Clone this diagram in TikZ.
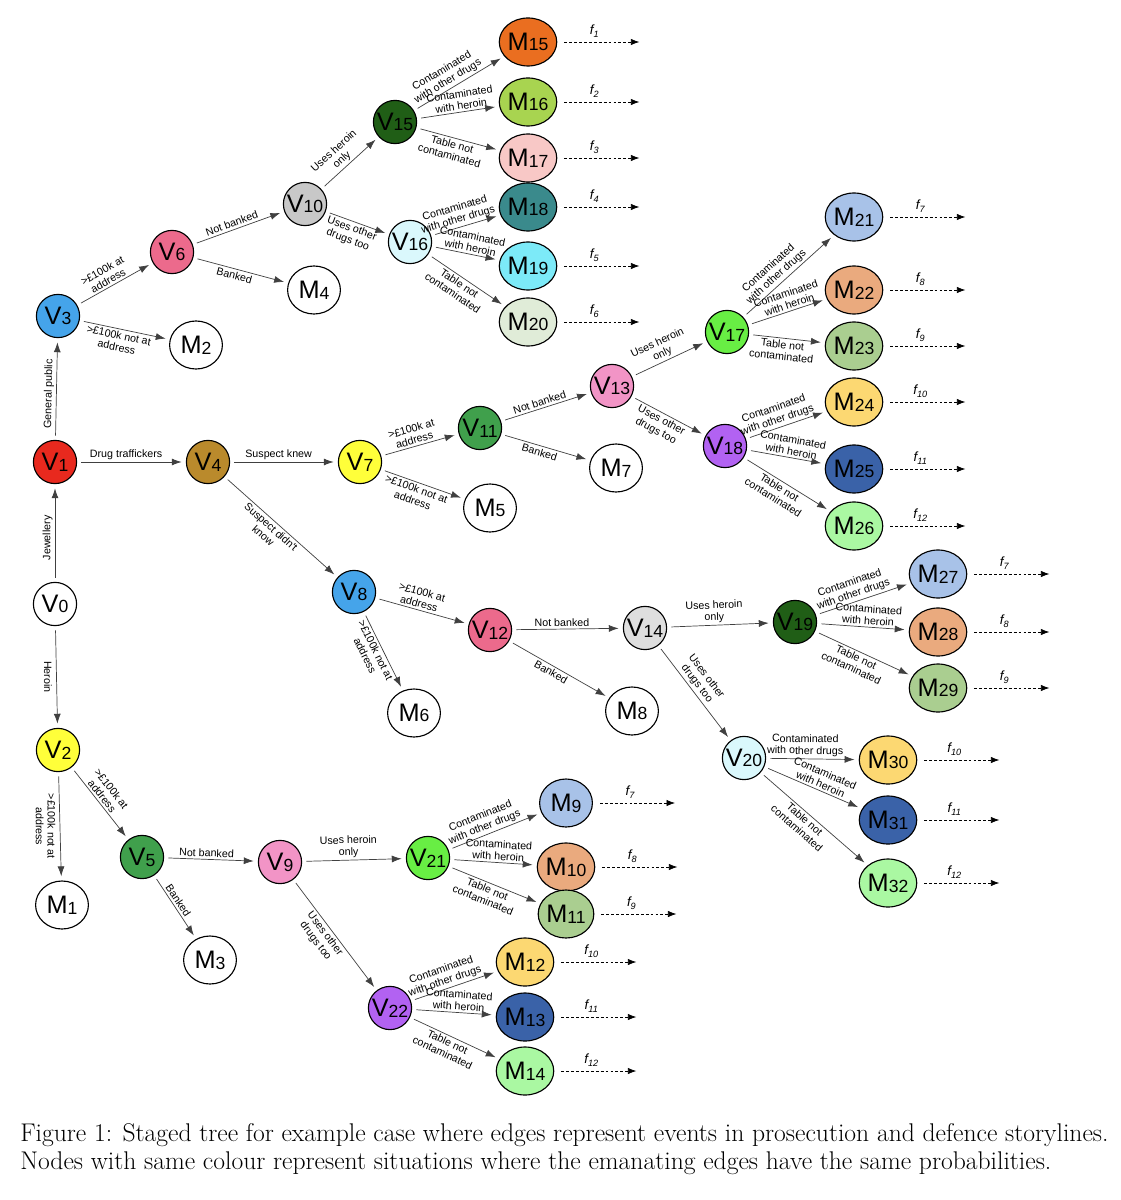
\documentclass[tikz,border=0pt]{standalone}
\usepackage{fontspec}
\newfontfamily\arial{Liberation Sans}
\usetikzlibrary{shapes.geometric,arrows.meta}
\newcommand\nm[2]{{\fontsize{18}{18}\selectfont #1}\raisebox{-0.1ex}{\fontsize{12.5}{12.5}\selectfont #2}}
\newcommand\ff[1]{{\itshape f}\raisebox{-0.4ex}{\fontsize{6.5}{6.5}\selectfont\itshape #1}}
\definecolor{cred}{HTML}{E8291E}
\definecolor{cyel}{HTML}{FFFF3A}
\definecolor{cblue}{HTML}{45A4EA}
\definecolor{cbrown}{HTML}{BA8A2C}
\definecolor{cgreen}{HTML}{40A04C}
\definecolor{cpink}{HTML}{EC6A8C}
\definecolor{clpink}{HTML}{F294C6}
\definecolor{cgray}{HTML}{C8C8C8}
\definecolor{clgray}{HTML}{DEDEDE}
\definecolor{cdgreen}{HTML}{205E16}
\definecolor{ccyan}{HTML}{DAF8FC}
\definecolor{cbgreen}{HTML}{68EE44}
\definecolor{cpurple}{HTML}{B262F2}
\definecolor{morange}{HTML}{EA6E20}
\definecolor{mygreen}{HTML}{A8D450}
\definecolor{mlpink}{HTML}{F8C8C6}
\definecolor{mteal}{HTML}{3A8A8C}
\definecolor{mcyan}{HTML}{7CEAF8}
\definecolor{mpale}{HTML}{E0ECD8}
\definecolor{mlblue}{HTML}{A8C2E8}
\definecolor{mtan}{HTML}{EAAA7E}
\definecolor{msage}{HTML}{AACE90}
\definecolor{mlyel}{HTML}{FCD872}
\definecolor{mdblue}{HTML}{3A62A8}
\definecolor{mlgreen}{HTML}{AAF8A2}
\begin{document}
\begin{tikzpicture}[x=0.025cm,y=-0.025cm,
  v/.style={circle,draw=black,line width=0.8pt,minimum size=1.08cm,inner sep=0pt,font=\arial},
  m/.style={ellipse,draw=black,line width=0.8pt,minimum width=1.32cm,minimum height=1.2cm,inner sep=0pt,font=\arial},
  e/.style={-{Latex[length=7pt,width=5pt]},draw=black!75,line width=0.5pt,shorten >=3pt,shorten <=3pt},
  fd/.style={-{Latex[length=6pt,width=4.5pt]},dashed,dash pattern=on 2pt off 1.5pt,line width=0.5pt},
  l/.style={font=\arial\fontsize{7.6}{8.4}\selectfont,align=center,inner sep=1.5pt,sloped,pos=0.45},
  up/.style={l,above,pos=0.42},
  mid/.style={l,above,pos=0.55},
  vl/.style={font=\arial\fontsize{7.6}{8.4}\selectfont,align=center,inner sep=3pt,rotate=-90,anchor=north},
  fl/.style={font=\arial\fontsize{9.5}{9.5}\selectfont,inner sep=1pt}]
\useasboundingbox (0,0) rectangle (1120,1200);
% V nodes
\node[v,fill=white] (v0) at (55,604) {\nm{V}{0}};
\node[v,fill=cred] (v1) at (55,462) {\nm{V}{1}};
\node[v,fill=cyel] (v2) at (58,750) {\nm{V}{2}};
\node[v,fill=cblue] (v3) at (58,316) {\nm{V}{3}};
\node[v,fill=cbrown] (v4) at (208,462) {\nm{V}{4}};
\node[v,fill=cgreen] (v5) at (142,857) {\nm{V}{5}};
\node[v,fill=cpink] (v6) at (172,252) {\nm{V}{6}};
\node[v,fill=cyel] (v7) at (360,462) {\nm{V}{7}};
\node[v,fill=cblue] (v8) at (354,592) {\nm{V}{8}};
\node[v,fill=clpink] (v9) at (280,862) {\nm{V}{9}};
\node[v,fill=cgray] (v10) at (305,204) {\nm{V}{10}};
\node[v,fill=cgreen] (v11) at (480,428) {\nm{V}{11}};
\node[v,fill=cpink] (v12) at (490,630) {\nm{V}{12}};
\node[v,fill=clpink] (v13) at (612,386) {\nm{V}{13}};
\node[v,fill=clgray] (v14) at (645,628) {\nm{V}{14}};
\node[v,fill=cdgreen] (v15) at (395,122) {\nm{V}{15}};
\node[v,fill=ccyan] (v16) at (410,242) {\nm{V}{16}};
\node[v,fill=cbgreen] (v17) at (727,332) {\nm{V}{17}};
\node[v,fill=cpurple] (v18) at (725,446) {\nm{V}{18}};
\node[v,fill=cdgreen] (v19) at (795,622) {\nm{V}{19}};
\node[v,fill=ccyan] (v20) at (744,758) {\nm{V}{20}};
\node[v,fill=cbgreen] (v21) at (428,858) {\nm{V}{21}};
\node[v,fill=cpurple] (v22) at (390,1008) {\nm{V}{22}};
% M nodes
\node[m,fill=white] (m1) at (62,905) {\nm{M}{1}};
\node[m,fill=white] (m2) at (196,345) {\nm{M}{2}};
\node[m,fill=white] (m3) at (210,960) {\nm{M}{3}};
\node[m,fill=white] (m4) at (314,290) {\nm{M}{4}};
\node[m,fill=white] (m5) at (490,508) {\nm{M}{5}};
\node[m,fill=white] (m6) at (414,713) {\nm{M}{6}};
\node[m,fill=white] (m7) at (616,468) {\nm{M}{7}};
\node[m,fill=white] (m8) at (632,711) {\nm{M}{8}};
\node[m,fill=mlblue] (m9) at (566,803) {\nm{M}{9}};
\node[m,fill=mtan] (m10) at (566,867) {\nm{M}{10}};
\node[m,fill=msage] (m11) at (566,914) {\nm{M}{11}};
\node[m,fill=mlyel] (m12) at (525,962) {\nm{M}{12}};
\node[m,fill=mdblue] (m13) at (525,1017) {\nm{M}{13}};
\node[m,fill=mlgreen] (m14) at (525,1071) {\nm{M}{14}};
\node[m,fill=morange] (m15) at (528,42) {\nm{M}{15}};
\node[m,fill=mygreen] (m16) at (528,102) {\nm{M}{16}};
\node[m,fill=mlpink] (m17) at (528,158) {\nm{M}{17}};
\node[m,fill=mteal] (m18) at (528,207) {\nm{M}{18}};
\node[m,fill=mcyan] (m19) at (528,266) {\nm{M}{19}};
\node[m,fill=mpale] (m20) at (528,322) {\nm{M}{20}};
\node[m,fill=mlblue] (m21) at (854,217) {\nm{M}{21}};
\node[m,fill=mtan] (m22) at (854,290) {\nm{M}{22}};
\node[m,fill=msage] (m23) at (854,346) {\nm{M}{23}};
\node[m,fill=mlyel] (m24) at (854,402) {\nm{M}{24}};
\node[m,fill=mdblue] (m25) at (854,469) {\nm{M}{25}};
\node[m,fill=mlgreen] (m26) at (854,526) {\nm{M}{26}};
\node[m,fill=mlblue] (m27) at (938,574) {\nm{M}{27}};
\node[m,fill=mtan] (m28) at (938,632) {\nm{M}{28}};
\node[m,fill=msage] (m29) at (938,688) {\nm{M}{29}};
\node[m,fill=mlyel] (m30) at (888,760) {\nm{M}{30}};
\node[m,fill=mdblue] (m31) at (888,820) {\nm{M}{31}};
\node[m,fill=mlgreen] (m32) at (888,883) {\nm{M}{32}};
% dashed outputs
\foreach \n/\f in {15/1,16/2,17/3,18/4,19/5,20/6,21/7,22/8,23/9,24/10,25/11,26/12,27/7,28/8,29/9,30/10,31/11,32/12,9/7,10/8,11/9,12/10,13/11,14/12}{
  \draw[fd] ([xshift=5pt]m\n.east) -- node[fl,above=2pt,pos=0.4]{\ff{\f}} ++(75,0);
}
% edges
\draw[e] (v0) -- node[l,above]{Jewellery} (v1);
\draw[e] (v0) -- node[vl]{Heroin} (v2);
\draw[e] (v1) -- node[l,above]{General public} (v3);
\draw[e] (v1) -- node[l,above]{Drug traffickers} (v4);
\draw[e] (v3) -- node[l,above]{>£100k at\\address} (v6);
\draw[e] (v3) -- node[l,below]{>£100k not at\\address} (m2);
\draw[e] (v6) -- node[l,above]{Not banked} (v10);
\draw[e] (v6) -- node[l,below]{Banked} (m4);
\draw[e] (v10) -- node[l,above]{Uses heroin\\only} (v15);
\draw[e] (v10) -- node[l,below]{Uses other\\drugs too} (v16);
\draw[e] (v15) -- node[up]{Contaminated\\with other drugs} (m15);
\draw[e] (v15) -- node[mid]{Contaminated\\with heroin} (m16);
\draw[e] (v15) -- node[l,below]{Table not\\contaminated} (m17);
\draw[e] (v16) -- node[up]{Contaminated\\with other drugs} (m18);
\draw[e] (v16) -- node[mid]{Contaminated\\with heroin} (m19);
\draw[e] (v16) -- node[l,below]{Table not\\contaminated} (m20);
\draw[e] (v4) -- node[l,above]{Suspect knew} (v7);
\draw[e] (v4) -- node[l,below]{Suspect didn't\\know} (v8);
\draw[e] (v7) -- node[l,above]{>£100k at\\address} (v11);
\draw[e] (v7) -- node[l,below]{>£100k not at\\address} (m5);
\draw[e] (v11) -- node[l,above]{Not banked} (v13);
\draw[e] (v11) -- node[l,below]{Banked} (m7);
\draw[e] (v13) -- node[l,above]{Uses heroin\\only} (v17);
\draw[e] (v13) -- node[l,below]{Uses other\\drugs too} (v18);
\draw[e] (v17) -- node[up]{Contaminated\\with other drugs} (m21);
\draw[e] (v17) -- node[mid]{Contaminated\\with heroin} (m22);
\draw[e] (v17) -- node[l,below]{Table not\\contaminated} (m23);
\draw[e] (v18) -- node[up]{Contaminated\\with other drugs} (m24);
\draw[e] (v18) -- node[mid]{Contaminated\\with heroin} (m25);
\draw[e] (v18) -- node[l,below]{Table not\\contaminated} (m26);
\draw[e] (v8) -- node[l,above]{>£100k at\\address} (v12);
\draw[e] (v8) -- node[l,below]{>£100k not at\\address} (m6);
\draw[e] (v12) -- node[l,above]{Not banked} (v14);
\draw[e] (v12) -- node[l,below]{Banked} (m8);
\draw[e] (v14) -- node[l,above]{Uses heroin\\only} (v19);
\draw[e] (v14) -- node[l,above]{Uses other\\drugs too} (v20);
\draw[e] (v19) -- node[up]{Contaminated\\with other drugs} (m27);
\draw[e] (v19) -- node[mid]{Contaminated\\with heroin} (m28);
\draw[e] (v19) -- node[l,below]{Table not\\contaminated} (m29);
\draw[e] (v20) -- node[up]{Contaminated\\with other drugs} (m30);
\draw[e] (v20) -- node[mid]{Contaminated\\with heroin} (m31);
\draw[e] (v20) -- node[l,below]{Table not\\contaminated} (m32);
\draw[e] (v2) -- node[vl]{>£100k not at\\address} (m1);
\draw[e] (v2) -- node[l,above]{>£100k at\\address} (v5);
\draw[e] (v5) -- node[l,above]{Not banked} (v9);
\draw[e] (v5) -- node[l,above]{Banked} (m3);
\draw[e] (v9) -- node[l,above]{Uses heroin\\only} (v21);
\draw[e] (v9) -- node[l,below]{Uses other\\drugs too} (v22);
\draw[e] (v21) -- node[up]{Contaminated\\with other drugs} (m9);
\draw[e] (v21) -- node[mid]{Contaminated\\with heroin} (m10);
\draw[e] (v21) -- node[l,below]{Table not\\contaminated} (m11);
\draw[e] (v22) -- node[up]{Contaminated\\with other drugs} (m12);
\draw[e] (v22) -- node[mid]{Contaminated\\with heroin} (m13);
\draw[e] (v22) -- node[l,below]{Table not\\contaminated} (m14);
% caption
\node[anchor=base west,inner sep=0pt,font=\fontsize{18.2}{21}\selectfont] (cap1) at (20,1141) {Figure 1: Staged tree for example case where edges represent events in prosecution and defence storylines.};
\node[anchor=base west,inner sep=0pt,font=\fontsize{18.2}{21}\selectfont] (cap2) at (20,1169) {Nodes with same colour represent situations where the emanating edges have the same probabilities.};
\end{tikzpicture}
\end{document}
